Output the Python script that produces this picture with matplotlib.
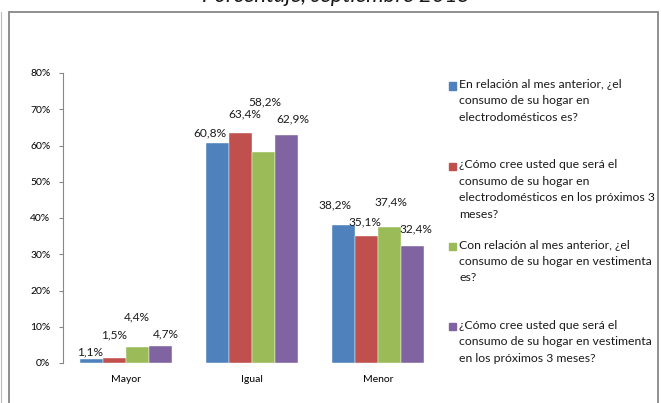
import matplotlib
matplotlib.use('Agg')
import matplotlib.pyplot as plt
from matplotlib.patches import Rectangle
from matplotlib.lines import Line2D
import numpy as np

plt.rcParams['font.family'] = ['Lato', 'DejaVu Sans']

# datos (porcentajes)
categorias = ['Mayor', 'Igual', 'Menor']
elec_mes = [1.1, 60.8, 38.2]
elec_3m = [1.5, 63.4, 35.1]
vest_mes = [4.4, 58.2, 37.4]
vest_3m = [4.7, 62.9, 32.4]
series = [elec_mes, elec_3m, vest_mes, vest_3m]
etiquetas = [
    'En relación al mes anterior, ¿el\nconsumo de su hogar en\nelectrodomésticos es?',
    '¿Cómo cree usted que será el\nconsumo de su hogar en\nelectrodomésticos en los próximos 3\nmeses?',
    'Con relación al mes anterior, ¿el\nconsumo de su hogar en vestimenta\nes?',
    '¿Cómo cree usted que será el\nconsumo de su hogar en vestimenta\nen los próximos 3 meses?',
]
yticks = [0, 10, 20, 30, 40, 50, 60, 70, 80]
titulo = 'Porcentaje, septiembre 2015'

colores = ['#4F81BD', '#C0504D', '#9BBB59', '#8064A2']
# desplazamiento de las etiquetas (pixeles) como en Excel
offsets = [
    [(-1.5, 7), (-7.5, 9.6), (-8.5, 20)],
    [(0, 22.6), (4.5, 19), (-2, 14)],
    [(-1, 30), (1.5, 50), (1.5, 26)],
    [(5, 12), (6.5, 16), (3, 16.5)],
]

W, H = 661, 403
def fx(px): return px / W
def fy(py): return 1 - py / H

fig = plt.figure(figsize=(6.61, 4.03), dpi=100)
ax = fig.add_axes([fx(63), fy(363), fx(441) - fx(63), fy(73) - fy(363)])

x = np.arange(len(categorias))
bw = 23 / 126
for i, (vals, c) in enumerate(zip(series, colores)):
    pos = x + (i - 1.5) * bw
    ax.bar(pos, vals, width=bw, color=c, edgecolor='white', linewidth=0.3)
    for j, v in enumerate(vals):
        ax.annotate(f'{v:.1f}%'.replace('.', ','), (pos[j], v),
                    xytext=offsets[i][j], textcoords='offset pixels',
                    ha='center', va='center', fontsize=8.6, color='#1a1a1a')

ax.set_xlim(-0.5, 2.5)
ax.set_ylim(0, 80)
ax.set_yticks(yticks)
ax.set_yticklabels([f'{t}%' for t in yticks], fontsize=7.5)
ax.set_xticks(x)
ax.set_xticklabels(categorias, fontsize=7.5)
ax.tick_params(axis='x', length=0, pad=9)
ax.tick_params(axis='y', length=3, color='#888888', pad=6)
for s in ['top', 'right', 'bottom']:
    ax.spines[s].set_visible(False)
ax.spines['left'].set_color('#888888')

# leyenda manual
for i, (lab, c) in enumerate(zip(etiquetas, colores)):
    yc = 86 + 80.3 * i
    fig.add_artist(Rectangle((fx(449), fy(yc + 3.5)), 7 / W, 7 / H,
                             transform=fig.transFigure, color=c))
    fig.text(fx(459), fy(yc - 7), lab, ha='left', va='top', fontsize=8.8,
             linespacing=1.6, color='#1a1a1a')

# marco del grafico
fig.add_artist(Rectangle((fx(9), fy(420)), (658 - 9) / W, (420 - 12) / H,
                         transform=fig.transFigure, fill=False,
                         edgecolor='#878787', linewidth=1.3))
fig.add_artist(Line2D([fx(1), fx(1)], [0, fy(12)], transform=fig.transFigure,
                      color='#bbbbbb', linewidth=0.8))

fig.text(fx(336), fy(2), titulo, ha='center', va='baseline', fontsize=16,
         fontstyle='italic', color='#1a1a1a')

fig.savefig('out.png', dpi=100)
